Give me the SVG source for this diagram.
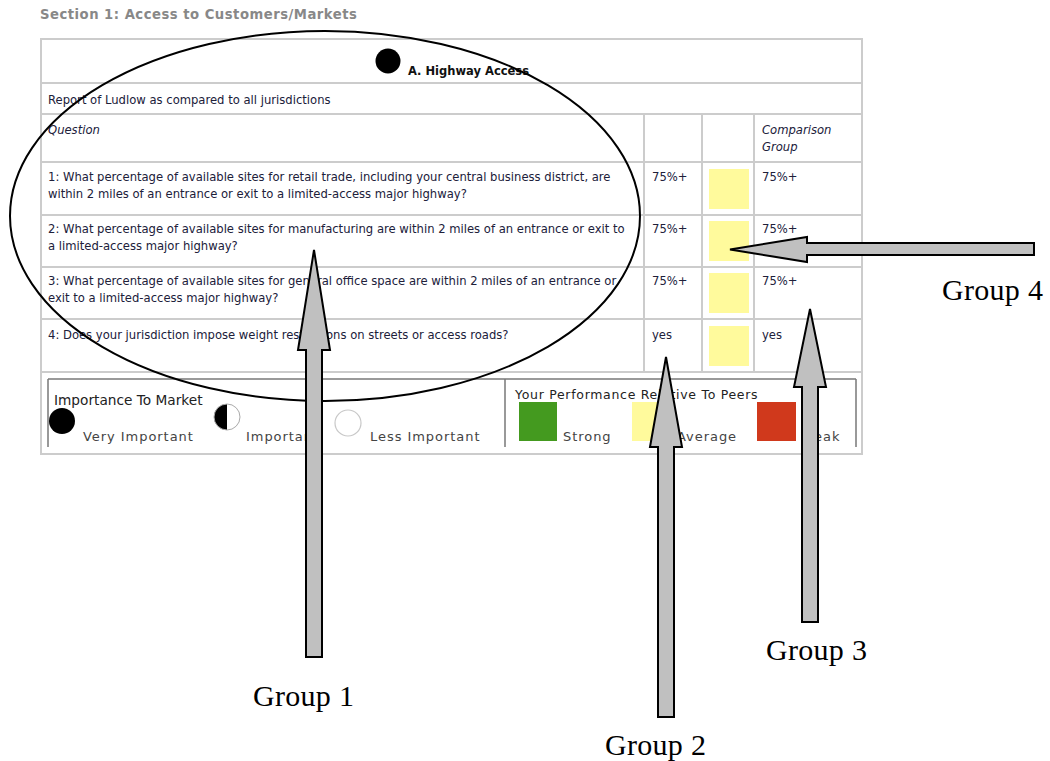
<svg xmlns="http://www.w3.org/2000/svg" width="1050" height="761" viewBox="0 0 1050 761">
<style>
.t{font-family:"DejaVu Sans",Verdana,sans-serif;font-size:11.6px;fill:#20203a}
.ti{font-family:"DejaVu Sans",Verdana,sans-serif;font-size:11.6px;fill:#20203a;font-style:italic}
.grid{stroke:#cccccc;stroke-width:2;fill:none}
.leg{font-family:"DejaVu Sans",Verdana,sans-serif;fill:#444444}
.lg{stroke:#777777;stroke-width:1.5;fill:none}
.arrow{fill:#c0c0c0;stroke:#000000;stroke-width:2;stroke-linejoin:miter}
.lbl{font-family:"Liberation Serif","Times New Roman",serif;font-size:30px;fill:#000000;letter-spacing:0.3px}
.ys{fill:#fffa9c}
</style>
<rect width="1050" height="761" fill="#ffffff"/>
<text id="section-title" x="40" y="19" style="font-family:'DejaVu Sans',Verdana,sans-serif;font-weight:bold;font-size:13.2px;letter-spacing:0.5px;fill:#888888">Section 1: Access to Customers/Markets</text>
<g id="table">
<rect x="41" y="39" width="821" height="415" class="grid"/>
<line x1="41" y1="83" x2="862" y2="83" class="grid"/>
<line x1="41" y1="114" x2="862" y2="114" class="grid"/>
<line x1="41" y1="162" x2="862" y2="162" class="grid"/>
<line x1="41" y1="215" x2="862" y2="215" class="grid"/>
<line x1="41" y1="267" x2="862" y2="267" class="grid"/>
<line x1="41" y1="319" x2="862" y2="319" class="grid"/>
<line x1="41" y1="372" x2="862" y2="372" class="grid"/>
<line x1="644" y1="114" x2="644" y2="372" class="grid"/>
<line x1="702" y1="114" x2="702" y2="372" class="grid"/>
<line x1="754" y1="114" x2="754" y2="372" class="grid"/>
<circle cx="388" cy="61" r="12.5" fill="#000000"/>
<text x="408" y="75" style="font-family:'DejaVu Sans',Verdana,sans-serif;font-weight:bold;font-size:11.5px;fill:#111111">A. Highway Access</text>
<text x="48" y="104" class="t">Report of Ludlow as compared to all jurisdictions</text>
<text x="48" y="134" class="ti">Question</text>
<text x="762" y="134" class="ti">Comparison</text>
<text x="762" y="151" class="ti">Group</text>
<text x="48" y="181" class="t">1: What percentage of available sites for retail trade, including your central business district, are</text>
<text x="48" y="198" class="t">within 2 miles of an entrance or exit to a limited-access major highway?</text>
<text x="48" y="233" class="t">2: What percentage of available sites for manufacturing are within 2 miles of an entrance or exit to</text>
<text x="48" y="250" class="t">a limited-access major highway?</text>
<text x="48" y="285" class="t">3: What percentage of available sites for general office space are within 2 miles of an entrance or</text>
<text x="48" y="302" class="t">exit to a limited-access major highway?</text>
<text x="48" y="339" class="t">4: Does your jurisdiction impose weight restrictions on streets or access roads?</text>
<text x="652" y="181" class="t">75%+</text>
<text x="652" y="233" class="t">75%+</text>
<text x="652" y="285" class="t">75%+</text>
<text x="652" y="339" class="t">yes</text>
<text x="762" y="181" class="t">75%+</text>
<text x="762" y="233" class="t">75%+</text>
<text x="762" y="285" class="t">75%+</text>
<text x="762" y="339" class="t">yes</text>
<rect x="709" y="169" width="40" height="40" class="ys"/>
<rect x="709" y="221" width="40" height="40" class="ys"/>
<rect x="709" y="273" width="40" height="40" class="ys"/>
<rect x="709" y="326" width="40" height="40" class="ys"/>
</g>
<g id="legend">
<line x1="48" y1="379" x2="856" y2="379" class="lg"/>
<line x1="48" y1="379" x2="48" y2="447" class="lg"/>
<line x1="505" y1="379" x2="505" y2="447" class="lg"/>
<line x1="856" y1="379" x2="856" y2="447" class="lg"/>
<text x="54" y="405" class="leg" style="font-size:13.7px;fill:#222222">Importance To Market</text>
<circle cx="62" cy="421" r="13" fill="#000000"/>
<text x="83" y="441" class="leg" style="font-size:13px;letter-spacing:0.95px">Very Important</text>
<path d="M227,404 A13,13 0 0 0 227,430 Z" fill="#000000"/>
<circle cx="227" cy="417" r="13" fill="none" stroke="#aaaaaa" stroke-width="1"/>
<text x="246" y="441" class="leg" style="font-size:13px;letter-spacing:0.95px">Important</text>
<circle cx="348" cy="423" r="13" fill="none" stroke="#c8c8c8" stroke-width="1.2"/>
<text x="370" y="441" class="leg" style="font-size:13px;letter-spacing:0.95px">Less Important</text>
<text x="515" y="399" class="leg" style="font-size:12.5px;fill:#222222;letter-spacing:0.7px">Your Performance Relative To Peers</text>
<rect x="519" y="402" width="38" height="39" fill="#449a1f"/>
<text x="563" y="441" class="leg" style="font-size:13px;letter-spacing:0.95px">Strong</text>
<rect x="632" y="402" width="38" height="39" fill="#fffa9c"/>
<text x="677" y="441" class="leg" style="font-size:13px;letter-spacing:0.95px">Average</text>
<rect x="757" y="402" width="39" height="39" fill="#d0391c"/>
<text x="801" y="441" class="leg" style="font-size:13px;letter-spacing:0.95px">Weak</text>
</g>
<g id="group1-ellipse">
<ellipse cx="325" cy="216" rx="315" ry="185" fill="none" stroke="#000000" stroke-width="2"/>
</g>
<g id="connectors">
<polygon class="arrow" points="306,657 306,350 298,350 314,250 330,350 322,350 322,657"/>
<polygon class="arrow" points="658,717 658,447 650,447 666,357 682,447 674,447 674,717"/>
<polygon class="arrow" points="802,622 802,387 794,387 810,309 826,387 818,387 818,622"/>
<polygon class="arrow" points="1034,243 807,243 807,237 730,249.5 807,262 807,255 1034,255"/>
</g>
<g id="group1"><text x="253" y="706" class="lbl">Group 1</text></g>
<g id="group2"><text x="605" y="755" class="lbl">Group 2</text></g>
<g id="group3"><text x="766" y="660" class="lbl">Group 3</text></g>
<g id="group4"><text x="942" y="300" class="lbl">Group 4</text></g>
</svg>
